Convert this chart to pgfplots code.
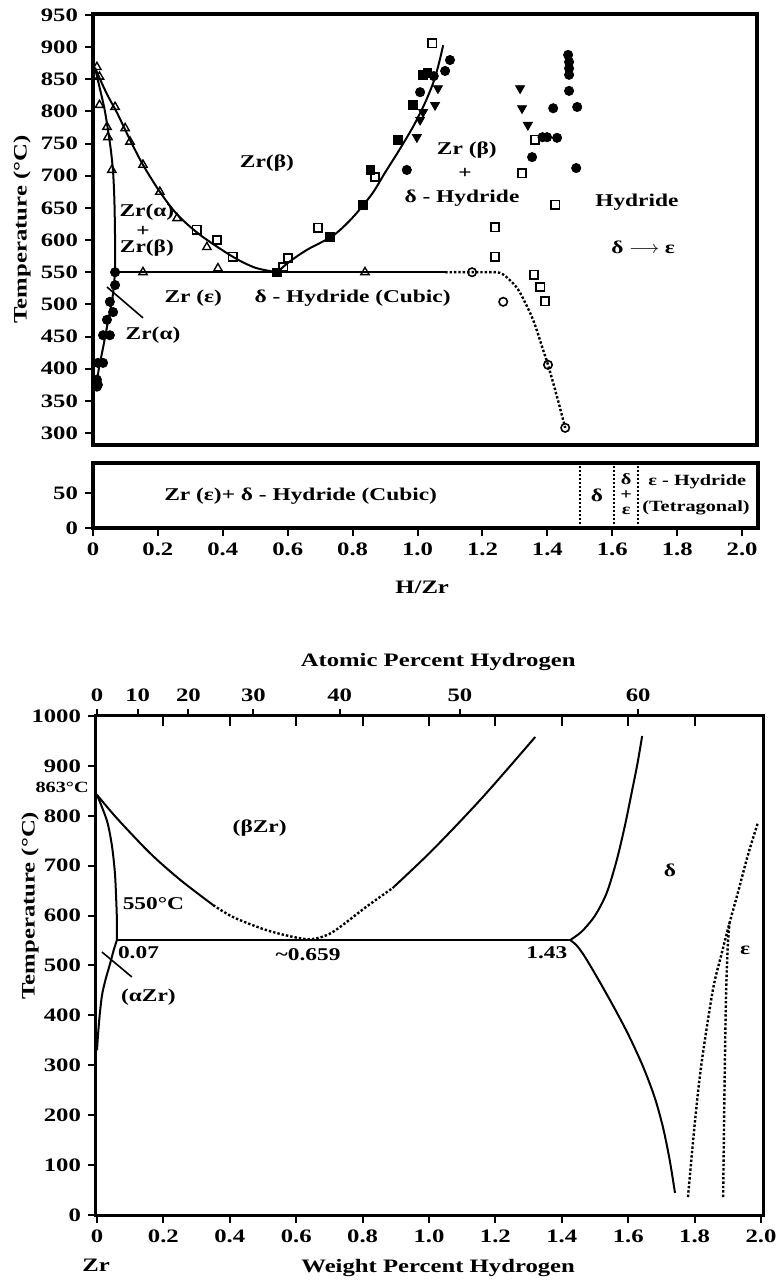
\documentclass[border=0pt]{standalone}
\usepackage{fontspec}
\setmainfont{Liberation Serif}[FakeStretch=1.3]
\usepackage{pgfplots}
\pgfplotsset{compat=1.18}
\newcommand\lbl{\bfseries\fontsize{9}{10}\selectfont}
\newcommand\sml{\bfseries\fontsize{7.8}{8.5}\selectfont}
\pgfplotsset{
 base/.style={scale only axis, anchor=south west,
  font=\lbl,
  /pgf/number format/assume math mode=true,
  /pgf/number format/1000 sep={},
  axis line style={line width=1.8pt, line cap=rect},
  tick align=outside, major tick length=4pt,
  major tick style={black, line width=1pt},
  tick label style={font=\bfseries\fontsize{9.5}{10}\selectfont},
  label style={font=\bfseries\fontsize{9.5}{10}\selectfont},
  clip=false,
 },
 curve/.style={black, line width=1pt, smooth, no markers},
 dcurve/.style={black, line width=1.2pt, densely dotted, smooth, no markers},
 otri/.style={only marks, mark=triangle, mark size=2.4pt, mark options={black, fill=white, line width=0.7pt}},
 osq/.style={only marks, mark=square, mark size=2.1pt, mark options={black, fill=white, line width=0.8pt}},
 fsq/.style={only marks, mark=square*, mark size=2.1pt, mark options={black, fill=black}},
 fci/.style={only marks, mark=*, mark size=2.3pt, mark options={black, fill=black}},
 oci/.style={only marks, mark=o, mark size=2.1pt, mark options={black, line width=0.8pt}},
 dtri/.style={only marks, mark=triangle*, mark size=2.6pt, mark options={black, fill=black, rotate=180}},
}
\begin{document}
\begin{tikzpicture}
\path[use as bounding box] (0,0) rectangle (389.5pt,641pt);

% ---------------- top panel ----------------
\begin{axis}[base, at={(46.5pt,418.5pt)}, width=332pt, height=215.5pt,
  xmin=0, xmax=2.046, ymin=281.3, ymax=951.6,
  xtick=\empty, ytick={300,350,...,950}, ytick pos=left,
  ylabel={Temperature (°C)},
  ylabel style={at={(axis description cs:-0.107,0.5)}, anchor=center}]
% beta transus
\addplot[curve] coordinates {(0.006,868) (0.02,852) (0.045,825) (0.074,798) (0.114,756) (0.154,717) (0.206,675) (0.259,640) (0.33,608) (0.431,574) (0.5,557) (0.567,550)};
% alpha/alpha+beta
\addplot[curve] coordinates {(0.006,868) (0.02,838) (0.035,805) (0.045,775) (0.055,740) (0.062,705) (0.066,660) (0.068,600) (0.068,550)};
% alpha solvus
\addplot[curve] coordinates {(0.068,550) (0.06,510) (0.045,470) (0.03,430) (0.018,400) (0.01,370)};
% eutectoid
\addplot[black, line width=1pt] coordinates {(0.068,550) (1.085,550)};
\addplot[dcurve] coordinates {(1.085,550) (1.2,550) (1.254,549) (1.29,535) (1.316,518) (1.356,476) (1.387,429) (1.402,406) (1.43,356) (1.455,308)};
% beta/delta
\addplot[curve] coordinates {(0.567,550) (0.607,567) (0.66,585) (0.74,607) (0.8,635) (0.86,672) (0.9,705) (0.94,737) (0.986,776) (1.02,810) (1.048,844) (1.065,873) (1.079,903)};
% pointer
\addplot[black, line width=0.8pt] coordinates {(0.043,527) (0.154,479)};
% data marks
\addplot[otri] coordinates {(0.012,869) (0.02,854) (0.02,810) (0.043,776) (0.046,760) (0.058,709) (0.068,807) (0.099,774) (0.114,753) (0.154,717) (0.206,675) (0.259,634) (0.351,589) (0.385,556) (0.154,550) (0.838,550)};
\addplot[osq] coordinates {(0.32,616) (0.382,600) (0.431,574) (0.586,558) (0.601,572) (0.693,619) (0.869,698) (1.045,906) (1.239,620) (1.239,574) (1.322,704) (1.362,756) (1.424,655) (1.359,546) (1.378,527) (1.393,505)};
\addplot[fsq] coordinates {(0.567,550) (0.73,605) (0.832,655) (0.854,709) (0.94,756) (0.986,810) (1.017,857) (1.03,860)};
\addplot[fci] coordinates {(0.068,550) (0.068,530) (0.052,504) (0.062,488) (0.043,476) (0.031,452) (0.052,452) (0.015,409) (0.031,409) (0.012,383) (0.015,375) (0.012,372)
 (1.10,880) (1.085,863) (1.008,830) (0.967,709) (1.05,855)
 (1.418,805) (1.399,760) (1.43,759) (1.353,729) (1.464,888) (1.467,877) (1.467,867) (1.467,857) (1.467,832) (1.492,807) (1.489,712) (1.385,760)};
\addplot[dtri] coordinates {(1.063,836) (1.054,810) (1.017,799) (0.998,760) (1.008,787) (1.316,836) (1.322,805) (1.34,779)};
\addplot[oci] coordinates {(1.168,550) (1.264,504) (1.402,406) (1.455,308)};
% labels
\node[font=\lbl] at (axis cs:0.536,720) {Zr(β)};
\node[font=\lbl] at (axis cs:0.166,644) {Zr(α)};
\node[font=\lbl] at (axis cs:0.154,613) {+};
\node[font=\lbl] at (axis cs:0.166,588) {Zr(β)};
\node[font=\lbl] at (axis cs:0.309,510) {Zr (ε)};
\node[font=\lbl] at (axis cs:0.80,510) {δ - Hydride (Cubic)};
\node[font=\lbl] at (axis cs:0.185,452) {Zr(α)};
\node[font=\lbl] at (axis cs:1.152,740) {Zr (β)};
\node[font=\lbl] at (axis cs:1.146,704) {+};
\node[font=\lbl] at (axis cs:1.137,665) {δ - Hydride};
\node[font=\lbl] at (axis cs:1.676,659) {Hydride};
\node[font=\lbl] at (axis cs:1.695,588) {δ $\longrightarrow$ ε};
\end{axis}

% ---------------- lower strip ----------------
\begin{axis}[base, at={(46.5pt,377pt)}, width=332.5pt, height=32.5pt,
  xmin=0, xmax=2.049, ymin=0, ymax=93,
  xtick={0,0.2,0.4,0.6,0.8,1.0,1.2,1.4,1.6,1.8,2.0},
  xticklabels={0,0.2,0.4,0.6,0.8,1.0,1.2,1.4,1.6,1.8,2.0},
  ytick={0,50}, tick pos=left,
  xlabel={H/Zr},
  xlabel style={at={(axis description cs:0.495,-0.91)}, anchor=center}]
\addplot[black, line width=1pt, densely dotted] coordinates {(1.5,0) (1.5,93)};
\addplot[black, line width=1pt, densely dotted] coordinates {(1.605,0) (1.605,93)};
\addplot[black, line width=1pt, densely dotted] coordinates {(1.68,0) (1.68,93)};
\node[font=\lbl] at (axis cs:0.64,45) {Zr (ε)+ δ - Hydride (Cubic)};
\node[font=\lbl] at (axis cs:1.553,47) {δ};
\node[font=\sml] at (axis cs:1.643,70) {δ};
\node[font=\sml] at (axis cs:1.643,47) {+};
\node[font=\sml] at (axis cs:1.643,24) {ε};
\node[font=\sml] at (axis cs:1.862,66) {ε - Hydride};
\node[font=\sml] at (axis cs:1.858,29) {(Tetragonal)};
\end{axis}

% ---------------- bottom chart ----------------
\begin{axis}[base, at={(48pt,33.5pt)}, width=333.5pt, height=249.5pt,
  xmin=-0.003, xmax=2.006, ymin=0, ymax=1000,
  xtick={0,0.2,0.4,0.6,0.8,1.0,1.2,1.4,1.6,1.8,2.0},
  xticklabels={0,0.2,0.4,0.6,0.8,1.0,1.2,1.4,1.6,1.8,2.0},
  ytick={0,100,...,1000}, tick pos=left,
  axis line style={line width=1.5pt, line cap=rect},
  xlabel={Weight Percent Hydrogen},
  xlabel style={at={(axis description cs:0.513,-0.106)}, anchor=center},
  ylabel={Temperature (°C)},
  ylabel style={at={(axis description cs:-0.099,0.62)}, anchor=center}]
\addplot[curve] coordinates {(0,842) (0.06,795) (0.16,725) (0.25,672) (0.35,621)};
\addplot[dcurve] coordinates {(0.35,621) (0.41,597) (0.51,571) (0.60,556) (0.65,553) (0.71,567) (0.81,617) (0.89,655)};
\addplot[curve] coordinates {(0.89,655) (1.01,731) (1.16,836) (1.32,958)};
\addplot[curve] coordinates {(0,842) (0.03,790) (0.045,740) (0.054,685) (0.058,630) (0.06,590) (0.06,551)};
\addplot[curve] coordinates {(0.06,551) (0.05,530) (0.04,505) (0.025,470) (0.015,440) (0.008,400) (0.003,360) (0,330)};
\addplot[black, line width=1pt] coordinates {(0.06,551) (1.425,551)};
\addplot[black, line width=0.8pt] coordinates {(0.015,527) (0.105,477)};
\addplot[curve] coordinates {(1.425,551) (1.46,568) (1.50,600) (1.535,645) (1.565,710) (1.59,780) (1.61,845) (1.628,905) (1.642,960)};
\addplot[curve] coordinates {(1.425,551) (1.445,540) (1.47,517) (1.51,472) (1.554,420) (1.6,362) (1.645,297) (1.68,235) (1.705,175) (1.725,110) (1.741,44)};
\addplot[dcurve] coordinates {(1.78,36) (1.80,180) (1.82,300) (1.855,451) (1.88,520) (1.905,585) (1.93,645) (1.96,720) (1.99,785)};
\addplot[dcurve] coordinates {(1.886,36) (1.889,200) (1.892,340) (1.895,450) (1.9,540) (1.905,585)};
\node[font=\sml] at (axis cs:-0.105,856) {863°C};
\node[font=\lbl] at (axis cs:0.49,776) {(βZr)};
\node[font=\lbl] at (axis cs:0.17,625) {550°C};
\node[font=\lbl] at (axis cs:0.125,525) {0.07};
\node[font=\lbl] at (axis cs:0.155,437) {(αZr)};
\node[font=\lbl] at (axis cs:0.636,521) {\textasciitilde0.659};
\node[font=\lbl] at (axis cs:1.355,525) {1.43};
\node[font=\lbl] at (axis cs:1.726,691) {δ};
\node[font=\lbl] at (axis cs:1.952,531) {ε};
\node[font=\bfseries\fontsize{9.5}{10}\selectfont] at (axis description cs:0.0,-0.1) {Zr};
\end{axis}
% inside ticks on top of bottom chart
\begin{axis}[base, at={(48pt,33.5pt)}, width=333.5pt, height=249.5pt,
  xmin=-0.003, xmax=2.006, ymin=0, ymax=1000,
  axis x line*=top, hide y axis,
  axis line style={line width=1.5pt, line cap=rect},
  xtick={0.2,0.4,0.6,0.8,1.0,1.2,1.4,1.6,1.8}, xticklabels={},
  tick align=inside, major tick length=5pt]
\end{axis}
% atomic percent axis
\begin{axis}[base, at={(48pt,33.5pt)}, width=333.5pt, height=249.5pt,
  xmin=-0.003, xmax=2.006, ymin=0, ymax=1000,
  axis x line*=top, hide y axis,
  axis line style={line width=1.5pt, line cap=rect},
  xtick={0,0.1227,0.2755,0.4713,0.731,1.093,1.630},
  xticklabels={0,10,20,30,40,50,60},
  tick align=outside, major tick length=3.5pt,
  xlabel={Atomic Percent Hydrogen},
  xlabel style={at={(axis description cs:0.513,1.108)}, anchor=center}]
\end{axis}
\end{tikzpicture}
\end{document}
